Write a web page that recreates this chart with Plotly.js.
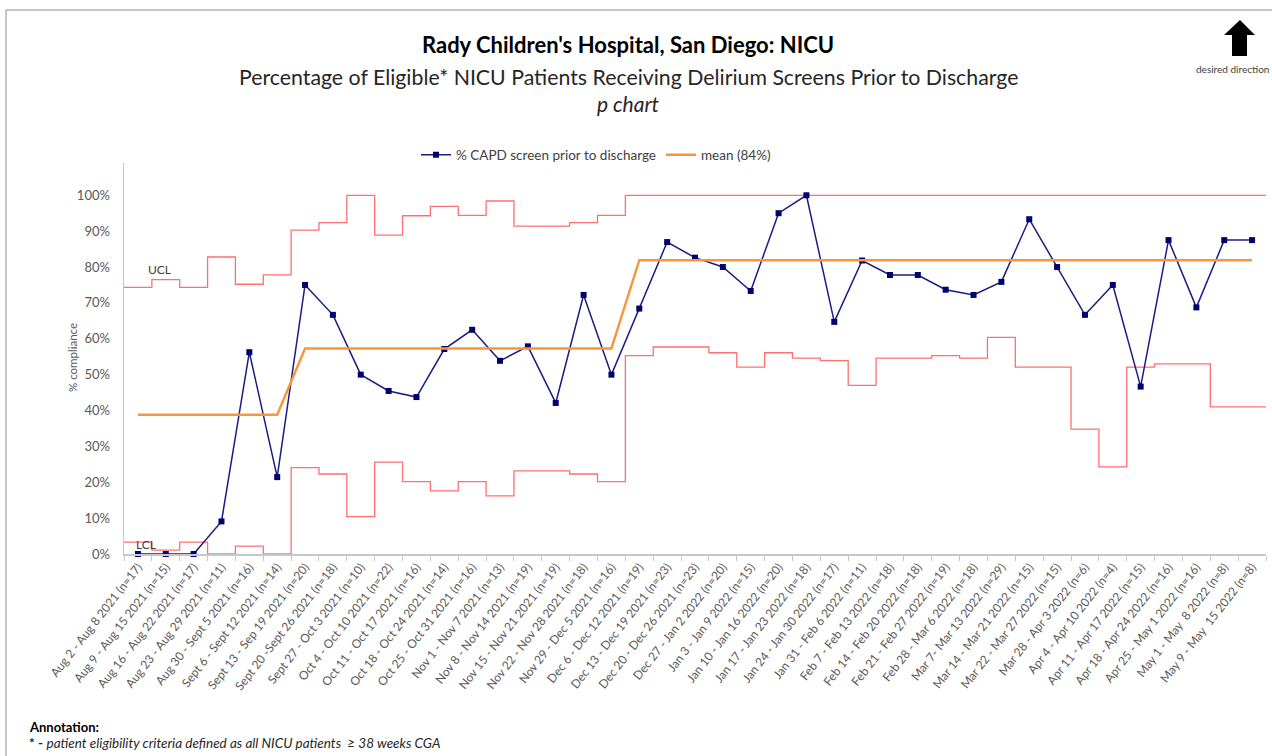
<!DOCTYPE html>
<html>
<head>
<meta charset="utf-8">
<script src="https://cdn.plot.ly/plotly-3.0.1.min.js"></script>
<style>
  html, body { margin: 0; padding: 0; background: #ffffff; }
  #chart { width: 1272px; height: 756px; }
</style>
</head>
<body>
<div id="chart"></div>
<script>
// ---------- data ----------
const categories = [
  "Aug 2 - Aug 8 2021 (n=17)",
  "Aug 9 - Aug 15 2021 (n=15)",
  "Aug 16 - Aug 22 2021 (n=17)",
  "Aug 23 - Aug 29 2021 (n=11)",
  "Aug 30 - Sept 5 2021 (n=16)",
  "Sept 6 - Sept 12 2021 (n=14)",
  "Sept 13 - Sep 19 2021 (n=20)",
  "Sept 20 -Sept 26 2021 (n=18)",
  "Sept 27 - Oct 3 2021 (n=10)",
  "Oct 4 - Oct 10 2021 (n=22)",
  "Oct 11 - Oct 17 2021 (n=16)",
  "Oct 18 - Oct 24 2021 (n=14)",
  "Oct 25 - Oct 31 2021 (n=16)",
  "Nov 1 - Nov 7 2021 (n=13)",
  "Nov 8 - Nov 14 2021 (n=19)",
  "Nov 15 - Nov 21 2021 (n=19)",
  "Nov 22 - Nov 28 2021 (n=18)",
  "Nov 29 - Dec 5 2021 (n=16)",
  "Dec 6 - Dec 12 2021 (n=19)",
  "Dec 13 - Dec 19 2021 (n=23)",
  "Dec 20 - Dec 26 2021 (n=23)",
  "Dec 27 - Jan 2 2022 (n=20)",
  "Jan 3 - Jan 9 2022 (n=15)",
  "Jan 10 - Jan 16 2022 (n=20)",
  "Jan 17 - Jan 23 2022 (n=18)",
  "Jan 24 - Jan 30 2022 (n=17)",
  "Jan 31 - Feb 6 2022 (n=11)",
  "Feb 7 - Feb 13 2022 (n=18)",
  "Feb 14 - Feb 20 2022 (n=18)",
  "Feb 21 - Feb 27 2022 (n=19)",
  "Feb 28 - Mar 6 2022 (n=18)",
  "Mar 7- Mar 13 2022 (n=29)",
  "Mar 14 - Mar 21 2022 (n=15)",
  "Mar 22 - Mar 27 2022 (n=15)",
  "Mar 28 - Apr 3 2022 (n=6)",
  "Apr 4 - Apr 10 2022 (n=4)",
  "Apr 11 - Apr 17 2022 (n=15)",
  "Apr 18 - Apr 24 2022 (n=16)",
  "Apr 25 - May 1 2022 (n=16)",
  "May 1 - May  8 2022 (n=8)",
  "May 9 - May  15 2022 (n=8)"
];

const pctScreened = [0, 0, 0, 9.09, 56.25, 21.43, 75, 66.67, 50, 45.45, 43.75, 57.14, 62.5, 53.85,
  57.89, 42.11, 72.22, 50, 68.42, 86.96, 82.61, 80, 73.33, 95, 100, 64.71, 81.82, 77.78, 77.78,
  73.68, 72.22, 75.86, 93.33, 80, 66.67, 75, 46.67, 87.5, 68.75, 87.5, 87.5];

const meanLine = [38.8, 38.8, 38.8, 38.8, 38.8, 38.8,
  57.3, 57.3, 57.3, 57.3, 57.3, 57.3, 57.3, 57.3, 57.3, 57.3, 57.3, 57.3,
  81.9, 81.9, 81.9, 81.9, 81.9, 81.9, 81.9, 81.9, 81.9, 81.9, 81.9, 81.9,
  81.9, 81.9, 81.9, 81.9, 81.9, 81.9, 81.9, 81.9, 81.9, 81.9, 81.9];

const ucl = [74.3, 76.5, 74.3, 82.8, 75.2, 77.8, 90.3, 92.4, 100, 88.9, 94.3, 96.9, 94.4, 98.4,
  91.4, 91.4, 92.4, 94.4, 100, 100, 100, 100, 100, 100, 100, 100, 100, 100, 100, 100, 100, 100,
  100, 100, 100, 100, 100, 100, 100, 100, 100];

const lcl = [3.3, 1.1, 3.3, 0, 2.2, 0, 24.1, 22.3, 10.4, 25.6, 20.2, 17.6, 20.2, 16.2, 23.2, 23.2,
  22.3, 20.2, 55.3, 57.7, 57.7, 56.1, 52.1, 56.1, 54.6, 53.9, 47.0, 54.6, 54.6, 55.3, 54.6, 60.4,
  52.1, 52.1, 34.8, 24.3, 52.1, 53.0, 53.0, 41.0, 41.0];

const yTickVals = [0, 10, 20, 30, 40, 50, 60, 70, 80, 90, 100];
const yTickText = ["0%", "10%", "20%", "30%", "40%", "50%", "60%", "70%", "80%", "90%", "100%"];

// ---------- helpers ----------
const W = 1272, H = 756;
const M = {l: 124, r: 6, t: 163, b: 202};
const PW = W - M.l - M.r, PH = H - M.t - M.b;
const px = v => (v - M.l) / PW;       // pixel x -> paper x
const py = v => (H - M.b - v) / PH;   // pixel y -> paper y

// step-line edges on a linear overlay axis (category boundaries)
const edges = categories.map((_, i) => i - 0.5).concat([categories.length - 0.5]);
const uclStep = ucl.concat([ucl[ucl.length - 1]]);
const lclStep = lcl.concat([lcl[lcl.length - 1]]);

const redLine = {color: '#ff7070', width: 1.3};
const FONT = 'Lato, "Open Sans", sans-serif';

const traces = [
  {x: edges, y: uclStep, xaxis: 'x', yaxis: 'y', mode: 'lines', line: Object.assign({shape: 'hv'}, redLine),
   showlegend: false, hoverinfo: 'skip'},
  {x: edges, y: lclStep, xaxis: 'x', yaxis: 'y', mode: 'lines', line: Object.assign({shape: 'hv'}, redLine),
   showlegend: false, hoverinfo: 'skip'},
  {x: categories, y: pctScreened, xaxis: 'x2', yaxis: 'y', mode: 'lines+markers',
   name: '% CAPD screen prior to discharge', cliponaxis: false,
   line: {color: '#1c1c84', width: 1.5},
   marker: {symbol: 'square', size: 6, color: '#00006e'}},
  {x: categories, y: meanLine, xaxis: 'x2', yaxis: 'y', mode: 'lines', name: 'mean (84%)',
   line: {color: '#f7963b', width: 2.4}}
];

const gray = '#595959';
const layout = {
  width: W, height: H,
  margin: M,
  paper_bgcolor: '#ffffff', plot_bgcolor: '#ffffff',
  font: {family: FONT, color: gray},
  showlegend: true,
  legend: {orientation: 'h', x: px(596), xanchor: 'center', y: py(155), yanchor: 'middle',
           font: {size: 13.5, color: '#404040', family: FONT}, itemwidth: 30, traceorder: 'normal'},
  xaxis: {type: 'linear', range: [-0.5, categories.length - 0.5], visible: false, fixedrange: true},
  xaxis2: {type: 'category', overlaying: 'x', anchor: 'y', side: 'bottom',
           range: [-0.5, categories.length - 0.5],
           tickson: 'boundaries', ticks: 'outside', ticklen: 5, tickcolor: '#c8c8c8',
           showline: true, linecolor: '#c8c8c8', linewidth: 1.5, showgrid: false, zeroline: false,
           tickangle: -52, tickfont: {size: 12, color: gray, family: FONT}, automargin: false},
  yaxis: {range: [0, 109], tickvals: yTickVals, ticktext: yTickText, showgrid: false, zeroline: false,
          showline: true, linecolor: '#c8c8c8', linewidth: 1.5, ticks: '', ticklabelstandoff: 10,
          tickfont: {size: 13, color: gray, family: FONT}, automargin: false},
  annotations: [
    {xref: 'paper', yref: 'paper', x: px(628), y: py(45), xanchor: 'center', yanchor: 'middle',
     text: "<b>Rady Children's Hospital, San Diego: NICU</b>", showarrow: false,
     font: {size: 22, color: '#000000', family: FONT}},
    {xref: 'paper', yref: 'paper', x: px(628), y: py(77), xanchor: 'center', yanchor: 'middle',
     text: 'Percentage of Eligible* NICU Patients Receiving Delirium Screens Prior to Discharge', showarrow: false,
     font: {size: 21.3, color: '#262626', family: FONT}},
    {xref: 'paper', yref: 'paper', x: px(628), y: py(103), xanchor: 'center', yanchor: 'middle',
     text: '<i>p chart</i>', showarrow: false, font: {size: 21, color: '#262626', family: FONT}},
    {xref: 'paper', yref: 'paper', x: px(72), y: py(358), xanchor: 'center', yanchor: 'middle',
     text: '% compliance', textangle: -90, showarrow: false, font: {size: 11.5, color: gray, family: FONT}},
    {xref: 'x', yref: 'y', x: 0.79, y: 79.3, text: 'UCL', showarrow: false, xanchor: 'center', yanchor: 'middle',
     font: {size: 12, color: '#404040', family: FONT}},
    {xref: 'x', yref: 'y', x: 0.29, y: 2.6, text: 'LCL', showarrow: false, xanchor: 'center', yanchor: 'middle',
     font: {size: 12, color: '#404040', family: FONT}},
    {xref: 'paper', yref: 'paper', x: px(1271), y: py(69), xanchor: 'right', yanchor: 'middle',
     text: 'desired direction', showarrow: false, font: {size: 10, color: '#404040', family: FONT}},
    {xref: 'paper', yref: 'paper', x: px(27), y: py(727), xanchor: 'left', yanchor: 'middle',
     text: '<b>Annotation:</b>', showarrow: false, font: {size: 13, color: '#000000', family: FONT}},
    {xref: 'paper', yref: 'paper', x: px(27), y: py(743), xanchor: 'left', yanchor: 'middle',
     text: '<b>* -</b> <i>patient eligibility criteria defined as all NICU patients  \u2265 38 weeks CGA</i>',
     showarrow: false, font: {size: 13.5, color: '#262626', family: FONT}}
  ],
  shapes: [
    // chart frame (top and left edges)
    {type: 'line', xref: 'paper', yref: 'paper', x0: px(6), x1: px(1272), y0: py(10), y1: py(10),
     line: {color: '#8c8c8c', width: 1}},
    {type: 'line', xref: 'paper', yref: 'paper', x0: px(6), x1: px(6), y0: py(10), y1: py(756),
     line: {color: '#8c8c8c', width: 1}},
    // desired-direction arrow
    {type: 'path', xref: 'paper', yref: 'paper',
     path: 'M ' + px(1240) + ',' + py(20) + ' L ' + px(1255) + ',' + py(35) + ' L ' + px(1247) + ',' + py(35) +
           ' L ' + px(1247) + ',' + py(56) + ' L ' + px(1232) + ',' + py(56) + ' L ' + px(1232) + ',' + py(35) +
           ' L ' + px(1224) + ',' + py(35) + ' Z',
     fillcolor: '#000000', line: {width: 0}}
  ]
};

Plotly.newPlot('chart', traces, layout, {displayModeBar: false, staticPlot: true});
</script>
</body>
</html>
